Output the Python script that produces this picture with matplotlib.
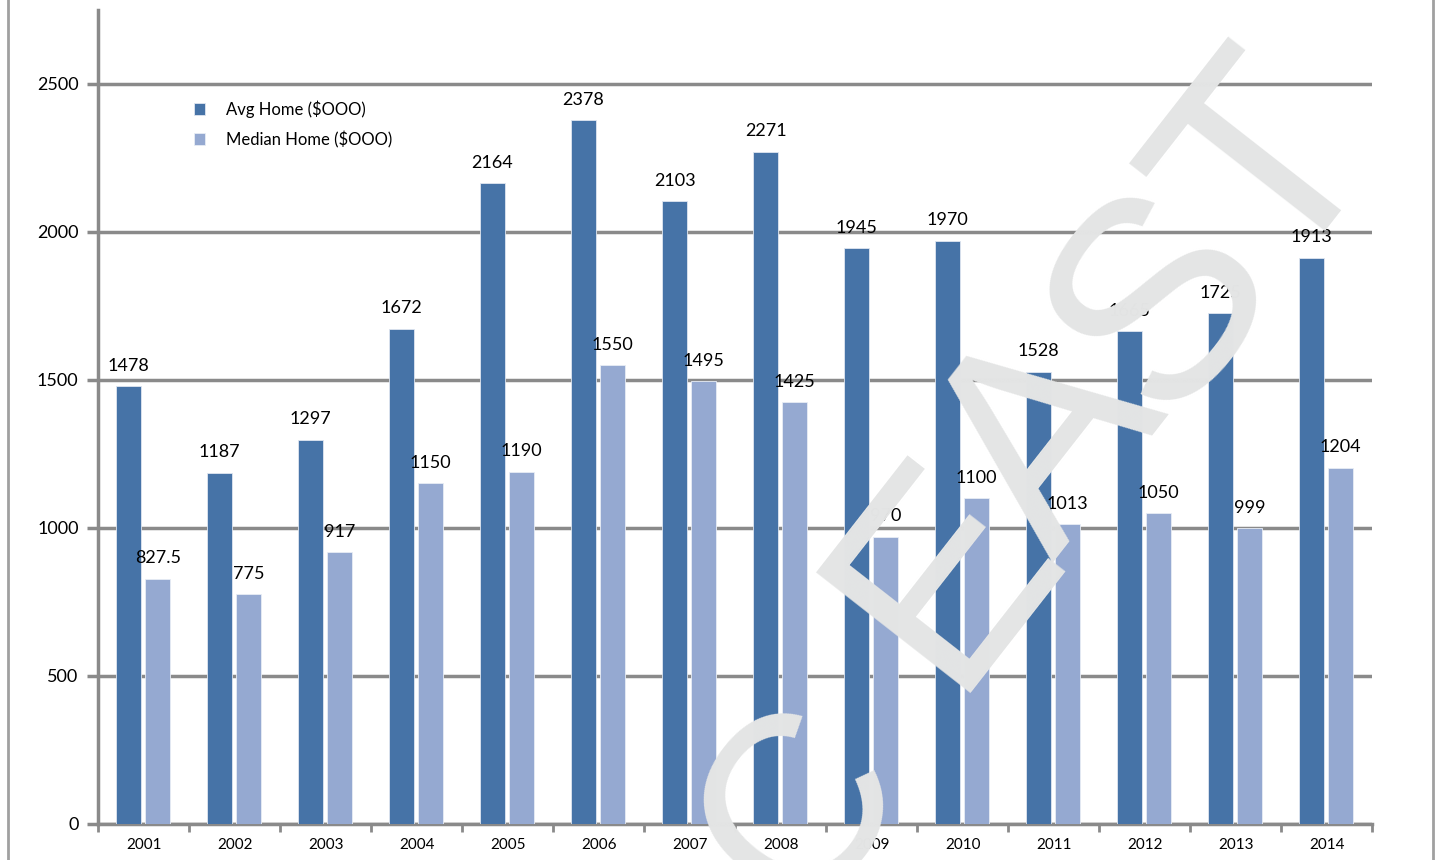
import numpy as np
import matplotlib.pyplot as plt
from matplotlib.lines import Line2D

plt.rcParams['font.family'] = ['Lato', 'DejaVu Sans']

# Datos del gráfico
years = ['2001', '2002', '2003', '2004', '2005', '2006', '2007',
         '2008', '2009', '2010', '2011', '2012', '2013', '2014']
avg_home = [1478, 1187, 1297, 1672, 2164, 2378, 2103,
            2271, 1945, 1970, 1528, 1665, 1725, 1913]
median_home = [827.5, 775, 917, 1150, 1190, 1550, 1495,
               1425, 970, 1100, 1013, 1050, 999, 1204]

avg_color = '#4673a7'
median_color = '#95a9d1'
grid_color = '#8a8a8a'

fig = plt.figure(figsize=(14.42, 8.6), dpi=100)
ax = fig.add_axes([0.068, 0.042, 0.8835, 0.9465])

x = np.arange(len(years))
w = 0.27
b1 = ax.bar(x - 0.165, avg_home, w, color=avg_color, edgecolor='#dfe6f0',
            linewidth=0.6, label='Avg Home ($OOO)', zorder=3)
b2 = ax.bar(x + 0.155, median_home, w, color=median_color, edgecolor='#e8edf5',
            linewidth=0.6, label='Median Home ($OOO)', zorder=3)

ax.bar_label(b1, labels=[f'{v:g}' for v in avg_home], padding=9, fontsize=13, zorder=4)
ax.bar_label(b2, labels=[f'{v:g}' for v in median_home], padding=9, fontsize=13, zorder=4)

ax.set_xlim(-0.5, len(years) - 0.5)
ax.set_ylim(0, 2750)
ax.set_yticks([0, 500, 1000, 1500, 2000, 2500])
ax.yaxis.grid(True, color=grid_color, linewidth=2.5, zorder=1)
ax.set_axisbelow(True)

# Ticks del eje x en los límites de cada grupo
ax.set_xticks(x)
ax.set_xticklabels(years, fontsize=11)
ax.set_xticks(np.arange(-0.5, len(years)), minor=True)
ax.tick_params(axis='x', which='major', length=0, pad=10)
ax.tick_params(axis='x', which='minor', length=6, width=2, color=grid_color, direction='out')
ax.tick_params(axis='y', length=8, width=2.5, color=grid_color, labelsize=13, pad=6)

for s in ['top', 'right']:
    ax.spines[s].set_visible(False)
for s in ['left', 'bottom']:
    ax.spines[s].set_color(grid_color)
    ax.spines[s].set_linewidth(2.5)

ax.legend(loc='upper left', bbox_to_anchor=(0.124, 0.901), bbox_transform=fig.transFigure,
          frameon=False, fontsize=12, handlelength=0.7, handleheight=0.7,
          handletextpad=1.25, labelspacing=0.8)

# Marco de la imagen
fig.add_artist(Line2D([0.0058, 0.0058], [0, 1], transform=fig.transFigure, color='#a0a0a0', lw=2))
fig.add_artist(Line2D([0.9938, 0.9938], [0, 1], transform=fig.transFigure, color='#a0a0a0', lw=2))

# Marca de agua (cada letra por separado, centros en píxeles)
wm_letters = ['C', 'E', 'A', 'S', 'T']
wm_px = [(783, 795), (925, 555), (1030, 425), (1142, 285), (1250, 152)]
wm_size = [180, 205, 205, 205, 205]
for ch, (px, py), fs in zip(wm_letters, wm_px, wm_size):
    fig.text(px / 1442, 1 - py / 860, ch, fontsize=fs, color='#e4e5e5', rotation=52,
             ha='center', va='center_baseline', rotation_mode='anchor',
             family=['Liberation Sans', 'DejaVu Sans'], zorder=10)

fig.savefig('out.png', dpi=100)
